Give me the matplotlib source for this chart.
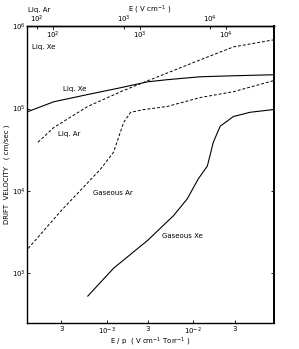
import numpy as np
import matplotlib
matplotlib.use('Agg')
import matplotlib.pyplot as plt
from matplotlib.ticker import FixedLocator, FixedFormatter

# curves (E/p in V cm-1 Torr-1, drift velocity in cm/sec)
liqxe_x = [1.24e-4, 2.46e-4, 6.05e-4, 1.45e-3, 2.96e-3, 5.0e-3, 1.2e-2, 2.9e-2, 8.3e-2]
liqxe_y = [9.2e4, 1.21e5, 1.48e5, 1.79e5, 2.11e5, 2.24e5, 2.43e5, 2.5e5, 2.57e5]

liqar_x = [1.61e-4, 2.46e-4, 6.05e-4, 1.45e-3, 2.96e-3, 5.0e-3, 1.2e-2, 2.9e-2, 8.3e-2]
liqar_y = [3.9e4, 5.9e4, 1.06e5, 1.6e5, 2.17e5, 2.7e5, 3.9e5, 5.6e5, 6.8e5]

gasar_x = [1.24e-4, 2.96e-4, 8.5e-4, 1.2e-3, 1.57e-3, 1.89e-3, 2.66e-3, 5.0e-3, 1.2e-2, 2.9e-2, 8.3e-2]
gasar_y = [2.0e3, 5.7e3, 1.84e4, 2.95e4, 6.8e4, 9.0e4, 9.7e4, 1.06e5, 1.36e5, 1.6e5, 2.17e5]

gasxe_x = [6.05e-4, 1.2e-3, 2.96e-3, 5.9e-3, 8.5e-3, 1.14e-2, 1.45e-2, 1.7e-2, 2.04e-2, 2.9e-2, 4.5e-2, 8.3e-2]
gasxe_y = [528, 1150, 2500, 5000, 8000, 1.4e4, 2.0e4, 3.9e4, 6.1e4, 8.0e4, 9.0e4, 9.7e4]

# bottom ticks
xticks = [3e-4, 1e-3, 3e-3, 1e-2, 3e-2]
xticklabels = ['3', r'$10^{-3}$', '3', r'$10^{-2}$', '3']
yticks = [1e3, 1e4, 1e5, 1e6]
yticklabels = [r'$10^{3}$', r'$10^{4}$', r'$10^{5}$', r'$10^{6}$']

# top scales: E (V cm-1) for liquids
E_ticks = [1e2, 1e3, 1e4]
E_labels = [r'$10^{2}$', r'$10^{3}$', r'$10^{4}$']
ar_factor = 10 ** -5.805
xe_factor = 10 ** -5.621

fs = 5
fig = plt.figure(figsize=(2.99, 3.49), dpi=100)
ax = fig.add_axes([0.09, 0.075, 0.826, 0.85])
ax.set_xscale('log')
ax.set_yscale('log')
ax.set_xlim(1.2e-4, 8.5e-2)
ax.set_ylim(250, 1e6)

ax.plot(liqxe_x, liqxe_y, 'k-', lw=0.8)
ax.plot(liqar_x, liqar_y, 'k--', lw=0.7, dashes=(3, 2))
ax.plot(gasar_x, gasar_y, 'k--', lw=0.7, dashes=(3, 2))
ax.plot(gasxe_x, gasxe_y, 'k-', lw=0.8)

ax.xaxis.set_major_locator(FixedLocator(xticks))
ax.xaxis.set_major_formatter(FixedFormatter(xticklabels))
ax.xaxis.set_minor_locator(FixedLocator([]))
ax.yaxis.set_major_locator(FixedLocator(yticks))
ax.yaxis.set_major_formatter(FixedFormatter(yticklabels))
ax.yaxis.set_minor_locator(FixedLocator([]))
ax.tick_params(axis='both', direction='in', labelsize=fs, length=2, width=0.6, pad=2)
ax.tick_params(axis='y', right=True, pad=1)
for s in ax.spines.values():
    s.set_linewidth(1.0)
ax.spines['right'].set_linewidth(1.4)

# Liq. Ar scale, labels above the frame
sec_ar = ax.secondary_xaxis('top', functions=(lambda x: x / ar_factor, lambda e: e * ar_factor))
sec_ar.xaxis.set_major_locator(FixedLocator(E_ticks))
sec_ar.xaxis.set_major_formatter(FixedFormatter(E_labels))
sec_ar.xaxis.set_minor_locator(FixedLocator([]))
sec_ar.tick_params(direction='in', length=2, width=0.6, labelsize=fs, pad=1)
sec_ar.spines['top'].set_linewidth(1.0)

# Liq. Xe scale, labels just inside the frame
for e, lab in zip(E_ticks, E_labels):
    ax.text(e * xe_factor, 0.988, lab, transform=ax.get_xaxis_transform(),
            ha='center', va='top', fontsize=fs)
    ax.plot([e * xe_factor] * 2, [1.0, 0.99], transform=ax.get_xaxis_transform(),
            color='k', lw=0.6, clip_on=False)

fig.text(0.095, 0.972, 'Liq. Ar', fontsize=fs, ha='left', va='center')
fig.text(0.5, 0.972, r'E ( V cm$^{-1}$ )', fontsize=fs, ha='center', va='center')
ax.text(0.02, 0.94, 'Liq. Xe', transform=ax.transAxes, fontsize=fs, ha='left', va='top')

ax.set_xlabel(r'E / p  ( V cm$^{-1}$ Torr$^{-1}$ )', fontsize=fs)
ax.xaxis.set_label_coords(0.5, -0.042)
ax.set_ylabel('DRIFT  VELOCITY   ( cm/sec )', fontsize=fs, labelpad=1)

# curve labels
ax.text(3.1e-4, 1.74e5, 'Liq. Xe', fontsize=fs, va='center')
ax.text(2.73e-4, 4.9e4, 'Liq. Ar', fontsize=fs, va='center')
ax.text(6.9e-4, 9.5e3, 'Gaseous Ar', fontsize=fs, va='center')
ax.text(4.4e-3, 2.8e3, 'Gaseous Xe', fontsize=fs, va='center')

fig.savefig('out.png', dpi=100)
